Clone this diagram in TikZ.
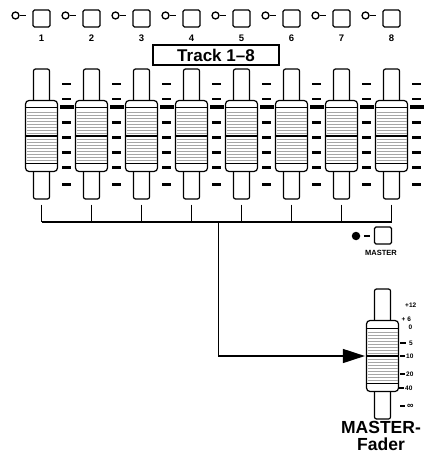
\documentclass[tikz,border=0pt]{standalone}
\usepackage{fontspec}
\setmainfont{Liberation Sans}
\usetikzlibrary{arrows.meta}
\tikzset{
  track/.style={draw, line width=1.2pt, rounded corners=2pt, minimum width=16pt, minimum height=130pt, inner sep=0pt},
  knob/.style={draw, fill=white, line width=1.2pt, rounded corners=3.5pt, minimum width=32pt, minimum height=71pt, inner sep=0pt},
  grill/.style={black!35, line width=0.5pt},
  led/.style={circle, draw, line width=1.3pt, minimum size=7pt, inner sep=0pt},
  btn/.style={draw, fill=white, line width=1.1pt, rounded corners=1.5pt, minimum size=17pt, inner sep=0pt},
  num/.style={font=\fontsize{9.5}{9.5}\selectfont\bfseries, inner sep=0pt},
  hyph/.style={line width=1.4pt, shorten <=0.5pt, shorten >=6pt},
  bus/.style={line width=1.3pt},
  scl/.style={font=\fontsize{6.5}{6.5}\selectfont\bfseries, inner sep=0pt, anchor=west}
}
% one fader: name, x, y of the middle bar
\newcommand{\fader}[3]{%
  \node[track] (#1t) at (#2,#3-2) {};
  \node[knob] (#1) at (#2,#3) {};
  \foreach \n in {1,...,8} {
    \draw[grill] ({#2-15},{#3-3*\n}) -- ({#2+15},{#3-3*\n});
    \draw[grill] ({#2-15},{#3+3*\n}) -- ({#2+15},{#3+3*\n});
  }
  \draw[line width=1pt] ({#2-16},{#3-28}) -- ({#2+16},{#3-28});
  \draw[line width=1pt] ({#2-16},{#3+27}) -- ({#2+16},{#3+27});
  \draw[line width=2.6pt] ({#2-16},#3) -- ({#2+16},#3);
}
% one channel button with its led and number
\newcommand{\chbtn}[2]{%
  \node[led] (l#1) at (#2-26,15.5) {};
  \node[btn] (b#1) at (#2,18.5) {};
  \node[num] (n#1) at (#2,38.5) {#1};
  \draw[hyph] (l#1.east) -- (l#1.east -| b#1.west);
}

\begin{document}
\begin{tikzpicture}[x=1pt,y=-1pt]
\useasboundingbox (0,0) rectangle (429,457);

\chbtn{1}{41.5}
\chbtn{2}{91.5}
\chbtn{3}{141.5}
\chbtn{4}{191.5}
\chbtn{5}{241.5}
\chbtn{6}{291.5}
\chbtn{7}{341.5}
\chbtn{8}{391.5}

\node[draw, line width=1.2pt, minimum width=126pt, minimum height=20pt, inner sep=0pt,
  font=\fontsize{17}{17}\selectfont\bfseries] (trk) at (216,55) {Track 1–8};

% scale marks between the faders
\foreach \c in {66.5,116.5,...,416.5} {
  \foreach \m in {84,99,122.7,137.7,152.7,167.7,184.3}
    \fill (\c-4.5,\m-1.3) rectangle (\c+4.5,\m+1.3);
  \fill (\c-7,105) rectangle (\c+7,109.5);
}

\fader{f1}{41.5}{136}
\fader{f2}{91.5}{136}
\fader{f3}{141.5}{136}
\fader{f4}{191.5}{136}
\fader{f5}{241.5}{136}
\fader{f6}{291.5}{136}
\fader{f7}{341.5}{136}
\fader{f8}{391.5}{136}

% bus
\coordinate (busL) at (41.5,222);
\coordinate (busR) at (391.5,222);
\coordinate (busM) at (218.5,222);
\draw[bus] (busL) -- (busR);
\draw[bus, shorten <=5pt] (f1t.south) -- (f1t.south |- busL);
\draw[bus, shorten <=5pt] (f2t.south) -- (f2t.south |- busL);
\draw[bus, shorten <=5pt] (f3t.south) -- (f3t.south |- busL);
\draw[bus, shorten <=5pt] (f4t.south) -- (f4t.south |- busL);
\draw[bus, shorten <=5pt] (f5t.south) -- (f5t.south |- busL);
\draw[bus, shorten <=5pt] (f6t.south) -- (f6t.south |- busL);
\draw[bus, shorten <=5pt] (f7t.south) -- (f7t.south |- busL);
\draw[bus, shorten <=5pt] (f8t.south) -- (f8t.south |- busL);

% master button
\node[circle, fill, minimum size=8.5pt, inner sep=0pt] (lm) at (356,236) {};
\node[btn] (bm) at (383,235.5) {};
\draw[hyph, shorten >=4pt, shorten <=3.5pt] (lm.east) -- (lm.east -| bm.west);
\node[font=\fontsize{7.5}{7.5}\selectfont\bfseries, inner sep=0pt] (mlab) at (381,253) {MASTER};

% master fader and its scale
\fader{fm}{382.5}{356}
\node[scl] (s1) at (405,305) {+12};
\node[scl] (s2) at (401.5,319.5) {+ 6};
\node[scl] (s3) at (408.5,327) {0};
\node[scl] (s4) at (409,343) {5};
\node[scl] (s5) at (406,356) {10};
\node[scl] (s6) at (406,374) {20};
\node[scl] (s7) at (405,388) {40};
\node[scl, font=\fontsize{9}{9}\selectfont\bfseries] (s8) at (407,406) {∞};
\draw[line width=2pt] (400,343) -- (405.5,343);
\draw[line width=2pt] (400,356) -- (404.5,356);
\draw[line width=2pt] (400,374) -- (404.5,374);
\draw[line width=2pt] (398.5,388) -- (403.5,388);
\draw[line width=2pt] (400,406) -- (405,406);

\draw[bus, -{Triangle[length=22pt,width=14pt]}, shorten >=1pt] (busM) |- (fm.west);

\node[align=center, inner sep=0pt, font=\fontsize{17.5}{16.5}\selectfont\bfseries] (mname) at (381,436) {MASTER-\\Fader};
\end{tikzpicture}
\end{document}
